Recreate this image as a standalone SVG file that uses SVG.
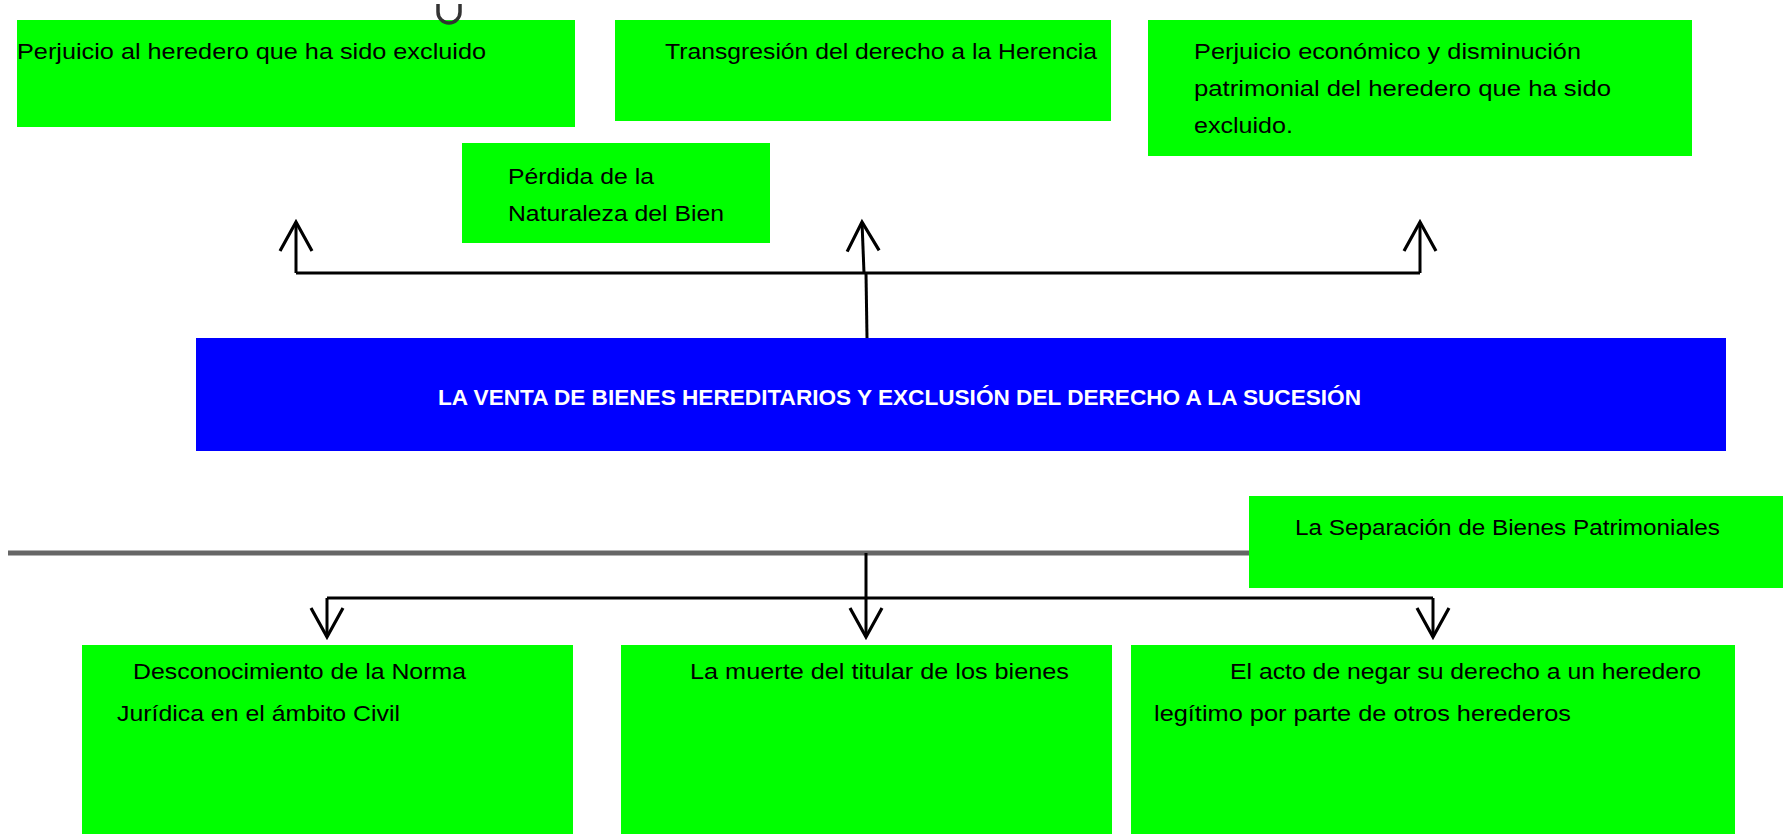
<svg xmlns="http://www.w3.org/2000/svg" width="1783" height="834" viewBox="0 0 1783 834">
<style>
.box{fill:#00ff00;}
.t{font-family:"Liberation Sans",Arial,sans-serif;font-size:22px;fill:#000;}
.title{font-family:"Liberation Sans",Arial,sans-serif;font-size:22px;font-weight:bold;fill:#fff;}
.conn{stroke:#000;stroke-width:3;fill:none;}
</style>
<defs>
<marker id="arr" markerUnits="userSpaceOnUse" markerWidth="36" markerHeight="36" viewBox="0 0 36 36" refX="32" refY="18" orient="auto">
<path d="M3,2 L32,18 L3,34" fill="none" stroke="#000" stroke-width="3.2"/>
</marker>
</defs>
<rect width="1783" height="834" fill="#fff"/>

<g id="nodeA"><rect class="box" x="17" y="20" width="558" height="107"/><text class="t" x="17" y="59" textLength="469" lengthAdjust="spacingAndGlyphs">Perjuicio  al heredero  que  ha sido  excluido</text></g>
<g id="nodeB"><rect class="box" x="615" y="20" width="496" height="101"/><text class="t" x="665" y="59" textLength="432" lengthAdjust="spacingAndGlyphs">Transgresión  del  derecho  a la  Herencia</text></g>
<g id="nodeC"><rect class="box" x="1148" y="20" width="544" height="136"/>
<text class="t" x="1194" y="59" textLength="387" lengthAdjust="spacingAndGlyphs">Perjuicio  económico y disminución</text>
<text class="t" x="1194" y="96" textLength="417" lengthAdjust="spacingAndGlyphs">patrimonial  del  heredero  que  ha sido</text>
<text class="t" x="1194" y="133" textLength="99" lengthAdjust="spacingAndGlyphs">excluido.</text></g>
<g id="nodeD"><rect class="box" x="462" y="143" width="308" height="100"/>
<text class="t" x="508" y="184" textLength="146" lengthAdjust="spacingAndGlyphs">Pérdida de la</text>
<text class="t" x="508" y="221" textLength="216" lengthAdjust="spacingAndGlyphs">Naturaleza del Bien</text></g>
<g id="nodeMain"><rect x="196" y="338" width="1530" height="113" fill="#0000ff"/>
<text class="title" x="438" y="405" textLength="923" lengthAdjust="spacingAndGlyphs">LA VENTA DE BIENES HEREDITARIOS  Y EXCLUSIÓN DEL DERECHO  A LA SUCESIÓN</text></g>
<g id="divider"><line x1="8" y1="553" x2="1250" y2="553" stroke="#666" stroke-width="5"/></g>
<g id="nodeE"><rect class="box" x="1249" y="496" width="534" height="92"/>
<text class="t" x="1295" y="535" textLength="425" lengthAdjust="spacingAndGlyphs">La Separación de Bienes Patrimoniales</text></g>
<g id="nodeF"><rect class="box" x="82" y="645" width="491" height="189"/>
<text class="t" x="133" y="679" textLength="333" lengthAdjust="spacingAndGlyphs">Desconocimiento  de la Norma</text>
<text class="t" x="117" y="721" textLength="283" lengthAdjust="spacingAndGlyphs">Jurídica  en el ámbito Civil</text></g>
<g id="nodeG"><rect class="box" x="621" y="645" width="491" height="189"/>
<text class="t" x="690" y="679" textLength="379" lengthAdjust="spacingAndGlyphs">La muerte  del  titular  de los bienes</text></g>
<g id="nodeH"><rect class="box" x="1131" y="645" width="604" height="189"/>
<text class="t" x="1230" y="679" textLength="471" lengthAdjust="spacingAndGlyphs">El acto de  negar  su derecho  a un heredero</text>
<text class="t" x="1154" y="721" textLength="417" lengthAdjust="spacingAndGlyphs">legítimo  por  parte de otros herederos</text></g>

<g id="connectors">
<path class="conn" d="M867,338 L866,273"/>
<path class="conn" d="M296,273 L1420,273"/>
<path class="conn" d="M296,273 L296,222" marker-end="url(#arr)"/>
<path class="conn" d="M864,273 L862,222" marker-end="url(#arr)"/>
<path class="conn" d="M1420,273 L1420,222" marker-end="url(#arr)"/>
<path class="conn" d="M866,553 L866,637" marker-end="url(#arr)"/>
<path class="conn" d="M327,598 L1433,598"/>
<path class="conn" d="M327,598 L327,637" marker-end="url(#arr)"/>
<path class="conn" d="M1433,598 L1433,637" marker-end="url(#arr)"/>
</g>
<g id="mark"><path d="M438,4 L438,12 A11,11 0 0 0 460,12 L460,4" fill="none" stroke="#333" stroke-width="3.5"/></g>
</svg>
